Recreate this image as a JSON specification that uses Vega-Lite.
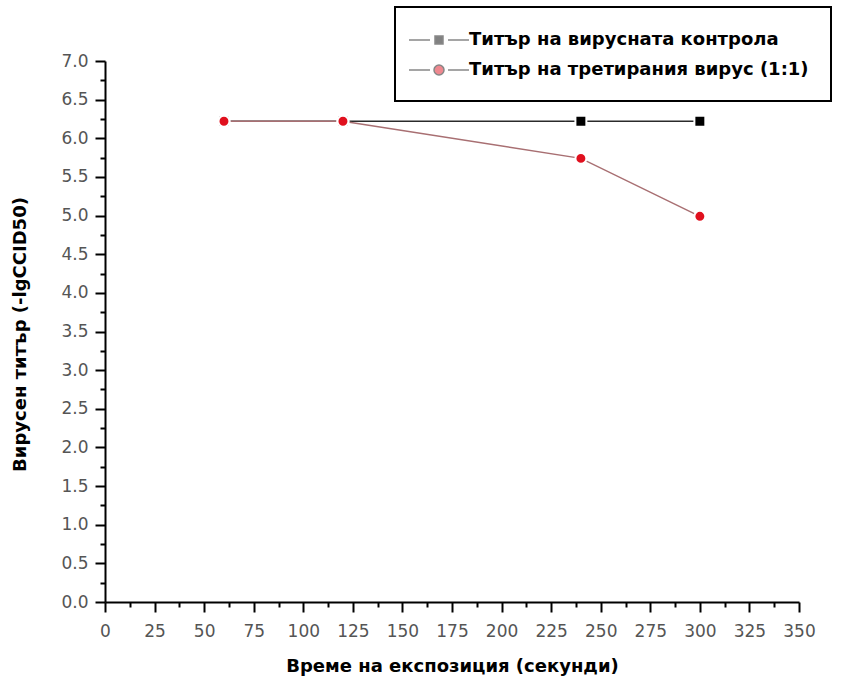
{
  "$schema": "https://vega.github.io/schema/vega-lite/v6.json",
  "autosize": "none",
  "width": 694,
  "height": 541,
  "padding": {"left": 105, "top": 61, "right": 44, "bottom": 79},
  "background": "white",
  "config": {
    "view": {"stroke": null},
    "font": "DejaVu Sans",
    "legend": {"strokeWidth": 2},
    "axis": {
      "domainColor": "black",
      "domainWidth": 2,
      "tickColor": "black",
      "tickWidth": 2,
      "labelColor": "#555555",
      "labelFont": "DejaVu Sans",
      "labelFontSize": 17,
      "titleFont": "DejaVu Sans",
      "titleFontSize": 18,
      "titleFontWeight": "bold",
      "titleColor": "black",
      "grid": false
    }
  },
  "data": {
    "values": [
      {"series": "Титър на вирусната контрола", "time": 60, "titer": 6.22},
      {"series": "Титър на вирусната контрола", "time": 120, "titer": 6.22},
      {"series": "Титър на вирусната контрола", "time": 240, "titer": 6.22},
      {"series": "Титър на вирусната контрола", "time": 300, "titer": 6.22},
      {"series": "Титър на третирания вирус (1:1)", "time": 60, "titer": 6.22},
      {"series": "Титър на третирания вирус (1:1)", "time": 120, "titer": 6.22},
      {"series": "Титър на третирания вирус (1:1)", "time": 240, "titer": 5.74},
      {"series": "Титър на третирания вирус (1:1)", "time": 300, "titer": 4.99}
    ]
  },
  "encoding": {
    "x": {
      "field": "time",
      "type": "quantitative",
      "scale": {"domain": [0, 350], "nice": false, "zero": false},
      "axis": {
        "title": "Време на експозиция (секунди)",
        "values": [0, 12.5, 25, 37.5, 50, 62.5, 75, 87.5, 100, 112.5, 125, 137.5, 150, 162.5, 175, 187.5, 200, 212.5, 225, 237.5, 250, 262.5, 275, 287.5, 300, 312.5, 325, 337.5, 350],
        "labelExpr": "datum.value % 25 === 0 ? datum.label : ''",
        "tickSize": {"condition": {"test": "datum.value % 25 === 0", "value": 10}, "value": 5},
        "labelPadding": 11,
        "labelFlush": false,
        "labelOverlap": false,
        "titleX": 347,
        "titleY": 64,
        "titleBaseline": "middle",
        "titleAlign": "center"
      }
    },
    "y": {
      "field": "titer",
      "type": "quantitative",
      "scale": {"domain": [0, 7], "nice": false},
      "axis": {
        "title": "Вирусен титър (-lgCCID50)",
        "values": [0, 0.25, 0.5, 0.75, 1, 1.25, 1.5, 1.75, 2, 2.25, 2.5, 2.75, 3, 3.25, 3.5, 3.75, 4, 4.25, 4.5, 4.75, 5, 5.25, 5.5, 5.75, 6, 6.25, 6.5, 6.75, 7],
        "format": ".1f",
        "labelExpr": "datum.value % 0.5 === 0 ? datum.label : ''",
        "tickSize": {"condition": {"test": "datum.value % 0.5 === 0", "value": 10}, "value": 5},
        "labelPadding": 7,
        "labelFlush": false,
        "labelOverlap": false,
        "titleX": -85,
        "titleY": 273,
        "titleAngle": -90,
        "titleBaseline": "middle",
        "titleAlign": "center"
      }
    }
  },
  "layer": [
    {
      "mark": {"type": "point", "filled": true, "size": 0, "stroke": "#555555", "strokeWidth": 1.5},
      "encoding": {
        "fill": {
          "field": "series",
          "type": "nominal",
          "scale": {"range": ["#000000", "#e0101e"]},
          "legend": {
            "title": null,
            "orient": "none",
            "legendX": 290,
            "legendY": -54,
            "padding": 22,
            "rowPadding": 10,
            "strokeColor": "black",
            "labelFont": "DejaVu Sans",
            "labelFontSize": 18,
            "labelFontWeight": "bold",
            "labelColor": "black",
            "labelLimit": 500,
            "symbolSize": 400,
            "symbolOffset": 11,
            "labelOffset": 19,
            "symbolStrokeWidth": 1.5,
            "symbolOpacity": 1
          }
        },
        "shape": {
          "field": "series",
          "type": "nominal",
          "scale": {"range": ["M-3,0H-0.9M0.9,0H3M-0.4,-0.4H0.4V0.4H-0.4Z", "M-3,0H-0.9M0.9,0H3M-0.5,0A0.5,0.5,0,1,1,0.5,0A0.5,0.5,0,1,1,-0.5,0Z"]}
        }
      }
    },
    {
      "mark": {"type": "line", "strokeWidth": 1.5},
      "encoding": {
        "detail": {"field": "series", "type": "nominal"},
        "stroke": {
          "condition": {"test": "datum.series === 'Титър на вирусната контрола'", "value": "#2b2b2b"},
          "value": "#a86f72"
        }
      }
    },
    {
      "mark": {"type": "point", "filled": true, "opacity": 1, "size": 120, "stroke": "white", "strokeWidth": 2},
      "encoding": {
        "fill": {
          "condition": {"test": "datum.series === 'Титър на вирусната контрола'", "value": "#000000"},
          "value": "#e0101e"
        },
        "shape": {
          "condition": {"test": "datum.series === 'Титър на вирусната контрола'", "value": "square"},
          "value": "circle"
        }
      }
    }
  ]
}
